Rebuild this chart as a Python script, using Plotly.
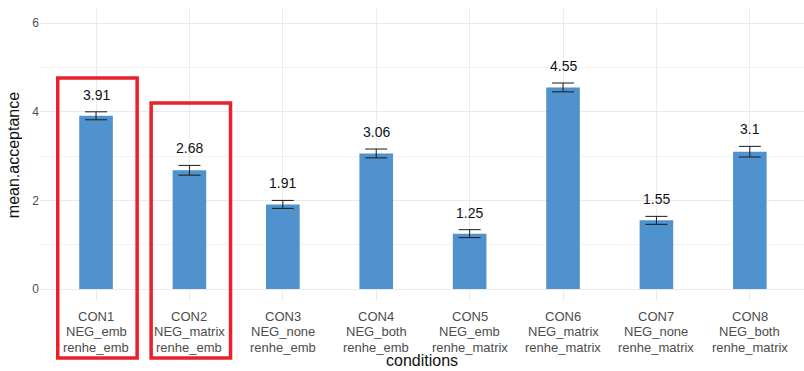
import plotly.graph_objects as go

conditions = ["CON1", "CON2", "CON3", "CON4", "CON5", "CON6", "CON7", "CON8"]
neg_levels = ["NEG_emb", "NEG_matrix", "NEG_none", "NEG_both",
              "NEG_emb", "NEG_matrix", "NEG_none", "NEG_both"]
renhe_levels = ["renhe_emb", "renhe_emb", "renhe_emb", "renhe_emb",
                "renhe_matrix", "renhe_matrix", "renhe_matrix", "renhe_matrix"]
mean_acceptance = [3.91, 2.68, 1.91, 3.06, 1.25, 4.55, 1.55, 3.1]
std_error = [0.09, 0.11, 0.09, 0.10, 0.09, 0.10, 0.09, 0.12]
highlighted = ["CON1", "CON2"]

FONT = "Arial, Liberation Sans"

fig = go.Figure()
fig.add_trace(go.Bar(
    x=conditions,
    y=mean_acceptance,
    width=0.36,
    marker=dict(color="#4f92cd", line=dict(width=0)),
    error_y=dict(type="data", array=std_error, visible=True,
                 color="#1a1a1a", thickness=1, width=11),
    hoverinfo="x+y",
))

# value labels above each error bar
for c, m, s in zip(conditions, mean_acceptance, std_error):
    fig.add_annotation(x=c, y=m + s, text=f"{m:g}", showarrow=False,
                       yanchor="bottom", yshift=7,
                       font=dict(family=FONT, size=14, color="#111111"))

# three-line category labels under the axis (tighter line spacing than ticktext)
for c, n, r in zip(conditions, neg_levels, renhe_levels):
    for line, shift in zip((c, n, r), (-15, -30.5, -46)):
        fig.add_annotation(x=c, xref="x", y=0, yref="paper", text=line,
                           showarrow=False, yanchor="middle", yshift=shift,
                           font=dict(family=FONT, size=13, color="#4d4d4d"))

fig.add_annotation(x=0.5, xref="paper", y=0, yref="paper", text="conditions",
                   showarrow=False, yanchor="bottom", yshift=-70,
                   font=dict(family=FONT, size=16, color="#111111"))

# red frames around the highlighted conditions
box_tops = {"CON1": 0.764, "CON2": 0.678}
for c in highlighted:
    i = conditions.index(c)
    fig.add_shape(type="rect", xref="x", yref="paper",
                  x0=i - 0.41, x1=i + 0.44, y0=-0.195, y1=box_tops[c],
                  line=dict(color="#e8212b", width=3.5), fillcolor="rgba(0,0,0,0)")

fig.update_layout(
    width=804, height=371,
    margin=dict(l=40, r=0, t=9, b=70),
    paper_bgcolor="white", plot_bgcolor="white",
    showlegend=False,
    font=dict(family=FONT, color="#4d4d4d"),
    xaxis=dict(
        tickmode="array", tickvals=conditions, showticklabels=False,
        range=[-0.6, 7.58],
        showgrid=True, gridcolor="#ebebeb", gridwidth=1,
        showline=False, zeroline=False, ticks="",
    ),
    yaxis=dict(
        range=[-0.27, 6.32],
        tickvals=[0, 2, 4, 6],
        showgrid=True, gridcolor="#ebebeb", gridwidth=1,
        minor=dict(tickvals=[1, 3, 5], showgrid=True, gridcolor="#f4f4f4", gridwidth=1),
        zeroline=False, showline=False, ticks="",
        tickfont=dict(size=12, color="#4d4d4d"),
        title=dict(text="mean.acceptance", font=dict(size=16, color="#111111"), standoff=8),
    ),
)

fig.write_html("out.html")
